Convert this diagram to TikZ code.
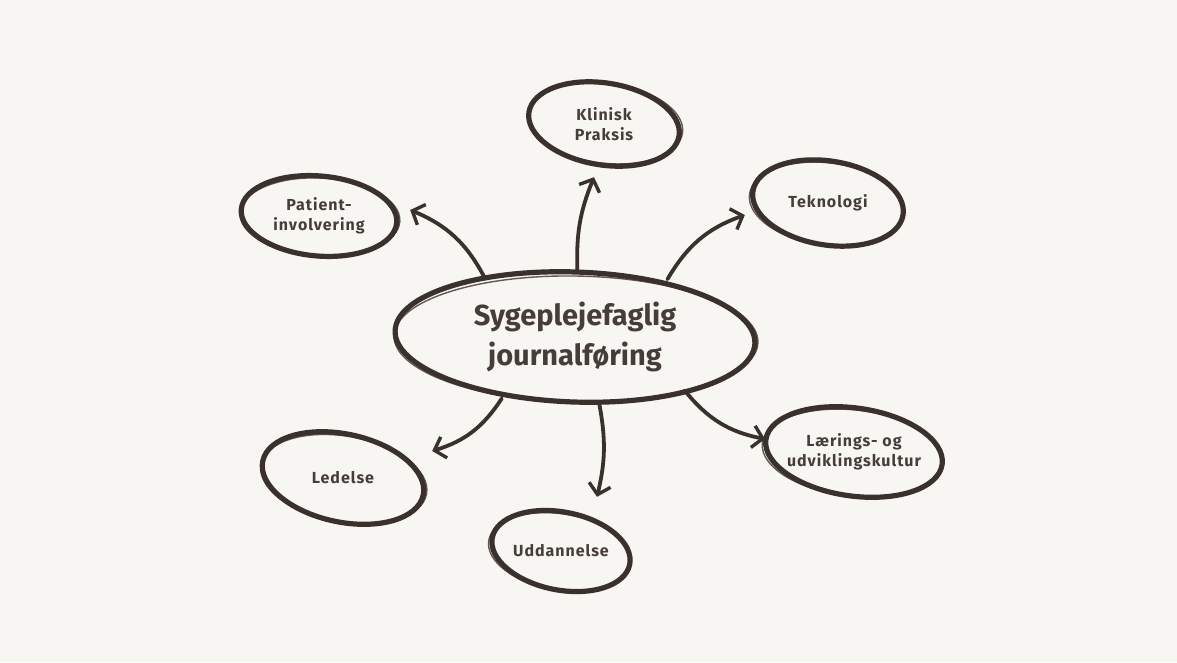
\documentclass[tikz,border=0pt]{standalone}
\usepackage{fontspec}
\setmainfont{Fira Sans}
\usetikzlibrary{shapes.geometric,arrows.meta,calc}
\definecolor{bg}{HTML}{F7F6F3}
\definecolor{ink}{HTML}{3A312D}
\definecolor{txt}{HTML}{463D39}
\tikzset{
  bubble/.style={ellipse, inner sep=0pt, text=txt, align=center, font=\fontsize{16}{20}\selectfont\bfseries\addfontfeatures{LetterSpace=6}},
  hub/.style={ellipse, inner sep=0pt, text=txt, align=center, font=\fontsize{29}{40}\selectfont\bfseries},
  stroke/.style={draw=ink, line width=5.2pt, line cap=round},
  sketch/.style={draw=ink, line width=1.4pt, opacity=0.8},
  link/.style={draw=ink, line width=3.8pt, line cap=round, -{Straight Barb[length=10pt,width=22pt,line width=3.4pt]}}
}
\begin{document}
\begin{tikzpicture}[x=1pt,y=-1pt]
\fill[bg] (0,0) rectangle (1177,662);
\useasboundingbox (0,0) rectangle (1177,662);

% nodes
\node[hub, minimum width=362pt, minimum height=134pt] (main) at (575,337) {Sygeplejefaglig\\journalføring};
\node[bubble, minimum width=154pt, minimum height=86pt] (kl) at (604,124) {Klinisk\\Praksis};
\node[bubble, minimum width=154pt, minimum height=88pt] (tek) at (828,203) {Teknologi};
\node[bubble, minimum width=158pt, minimum height=82pt] (pat) at (319,216) {Patient-\\involvering};
\node[bubble, minimum width=180pt, minimum height=92pt] (lae) at (854,452) {Lærings- og\\udviklingskultur};
\node[bubble, minimum width=166pt, minimum height=94pt] (led) at (343,478) {Ledelse};
\node[bubble, minimum width=142pt, minimum height=82pt] (udd) at (561,551) {Uddannelse};

% hand-drawn outlines
\draw[stroke, rotate around={-2:(main.center)}] (main.center) ellipse [x radius=180, y radius=65];
\draw[sketch, rotate around={-1:(main.center)}] ($(main.center)+(1,2)$) ellipse [x radius=182, y radius=63];

\draw[stroke, rotate around={-9:(kl.center)}] (kl.center) ellipse [x radius=76, y radius=41];
\draw[sketch, rotate around={-7:(kl.center)}] ($(kl.center)+(1,-1)$) ellipse [x radius=78, y radius=40];

\draw[stroke, rotate around={-9:(tek.center)}] (tek.center) ellipse [x radius=76, y radius=42];
\draw[sketch, rotate around={-7:(tek.center)}] ($(tek.center)+(-1,1)$) ellipse [x radius=78, y radius=41];

\draw[stroke, rotate around={-5:(pat.center)}] (pat.center) ellipse [x radius=78, y radius=40];
\draw[sketch, rotate around={-3:(pat.center)}] ($(pat.center)+(1,1)$) ellipse [x radius=80, y radius=39];

\draw[stroke, rotate around={-8:(lae.center)}] (lae.center) ellipse [x radius=89, y radius=44];
\draw[sketch, rotate around={-6:(lae.center)}] ($(lae.center)+(-1,1)$) ellipse [x radius=91, y radius=43];

\draw[stroke, rotate around={-12:(led.center)}] (led.center) ellipse [x radius=82, y radius=44];
\draw[sketch, rotate around={-10:(led.center)}] ($(led.center)+(1,1)$) ellipse [x radius=84, y radius=43];

\draw[stroke, rotate around={-11:(udd.center)}] (udd.center) ellipse [x radius=70, y radius=39];
\draw[sketch, rotate around={-9:(udd.center)}] ($(udd.center)+(-1,1)$) ellipse [x radius=72, y radius=38];

% connectors
\draw[link] (main.147) to[bend right=20] ([xshift=12pt,yshift=6pt]pat.east);
\draw[link] (main.88) to[bend left=12] ([xshift=-10pt,yshift=-10pt]kl.south);
\draw[link] (main.32) to[bend left=20] ([xshift=-6pt,yshift=-12pt]tek.west);
\draw[link] (main.-26) to[bend right=20] ([xshift=6pt,yshift=13pt]lae.west);
\draw[link] (main.-70) to[bend left=12] ([xshift=36pt,yshift=13pt]udd.north);
\draw[link] (main.-140) to[bend left=20] ([xshift=6pt,yshift=27pt]led.east);
\end{tikzpicture}
\end{document}
